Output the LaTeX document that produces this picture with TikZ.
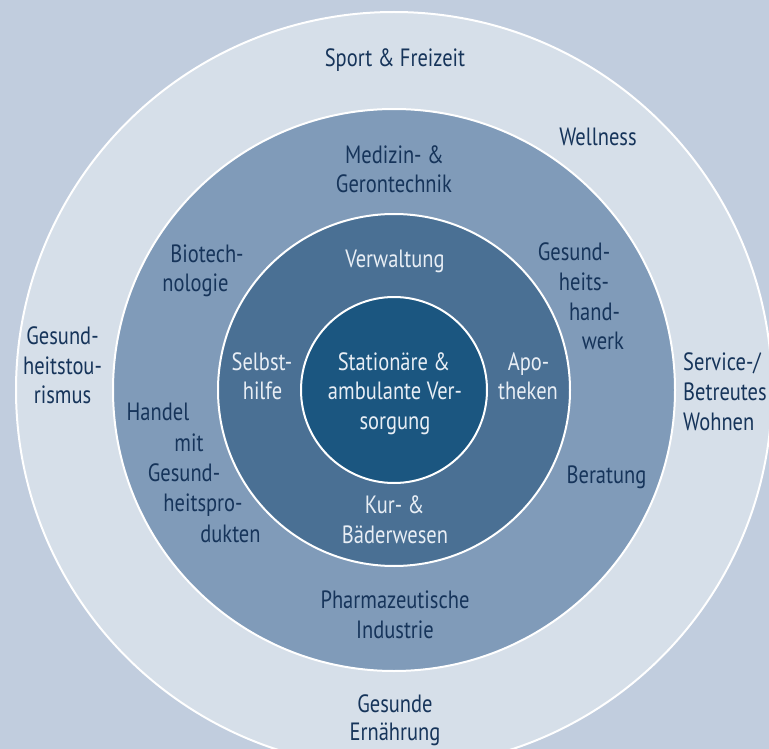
\documentclass[tikz,border=0pt]{standalone}
\usepackage{fontspec}
\setmainfont{PT Sans}[FakeStretch=0.82]
\definecolor{bgc}{RGB}{193,205,222}
\definecolor{ringA}{RGB}{214,223,233}
\definecolor{ringB}{RGB}{128,155,185}
\definecolor{ringC}{RGB}{74,112,148}
\definecolor{ringD}{RGB}{27,86,128}
\definecolor{darktxt}{RGB}{22,52,90}
\definecolor{lighttxt}{RGB}{232,238,245}
\begin{document}
\begin{tikzpicture}[x=1pt,y=-1pt,
  lbl/.style={font=\fontsize{25}{30}\selectfont, text=darktxt, anchor=base, inner sep=0pt},
  lbw/.style={lbl, text=lighttxt},
  ring/.style={draw=white, line width=2pt}]
\useasboundingbox (0,0) rectangle (769,749);
\fill[bgc] (0,0) rectangle (769,749);
\clip (0,0) rectangle (769,749);
\coordinate (c) at (394,390);
\draw[ring, fill=ringA] (c) circle[radius=378pt];
\draw[ring, fill=ringB] (c) circle[radius=281pt];
\draw[ring, fill=ringC] (c) circle[radius=176pt];
\draw[ring, fill=ringD] (c) circle[radius=93pt];
% outer ring
\node[lbl] (sport) at (395,67) {Sport \& Freizeit};
\node[lbl] (well) at (598,146) {Wellness};
\node[lbl] (gt1) at (62.5,344) {Gesund-};
\node[lbl] (gt2) at (62.5,374) {heitstou-};
\node[lbl] (gt3) at (62.5,403) {rismus};
\node[lbl, anchor=base west] (sw1) at (683,370) {Service-/};
\node[lbl, anchor=base west] (sw2) at (683,400) {Betreutes};
\node[lbl, anchor=base west] (sw3) at (683,430) {Wohnen};
\node[lbl] (ge1) at (395,712) {Gesunde};
\node[lbl] (ge2) at (395,740) {Ernährung};
% second ring
\node[lbl] (mg1) at (394.5,164) {Medizin- \&};
\node[lbl] (mg2) at (394,193) {Gerontechnik};
\node[lbl] (bt1) at (207,262) {Biotech-};
\node[lbl] (bt2) at (195.5,291) {nologie};
\node[lbl] (gh1) at (574,260) {Gesund-};
\node[lbl] (gh2) at (584,290) {heits-};
\node[lbl] (gh3) at (594.5,320) {hand-};
\node[lbl] (gh4) at (603,349) {werk};
\node[lbl] (hm1) at (158,420) {Handel};
\node[lbl] (hm2) at (189,451) {mit};
\node[lbl] (hm3) at (184,481) {Gesund-};
\node[lbl] (hm4) at (203,511) {heitspro-};
\node[lbl] (hm5) at (230.5,542) {dukten};
\node[lbl] (ber) at (606.5,483) {Beratung};
\node[lbl] (ph1) at (395,608) {Pharmazeutische};
\node[lbl] (ph2) at (395,638) {Industrie};
% third ring
\node[lbw] (verw) at (395,267) {Verwaltung};
\node[lbw] (sh1) at (262,370) {Selbst-};
\node[lbw] (sh2) at (262.5,399) {hilfe};
\node[lbw] (ap1) at (528.5,370) {Apo-};
\node[lbw] (ap2) at (528,399) {theken};
\node[lbw] (kb1) at (394.6,513) {Kur- \&};
\node[lbw] (kb2) at (395,543) {Bäderwesen};
% centre
\node[lbw] (sa1) at (394,370) {Stationäre \&};
\node[lbw] (sa2) at (395,399) {ambulante Ver-};
\node[lbw] (sa3) at (395,429) {sorgung};
\end{tikzpicture}
\end{document}
